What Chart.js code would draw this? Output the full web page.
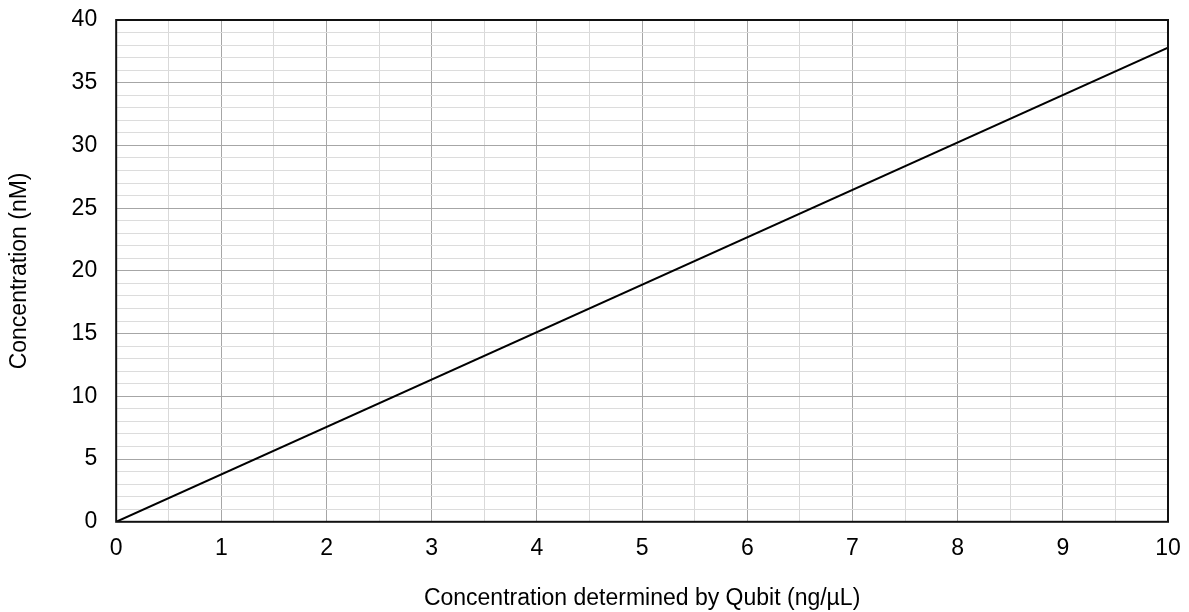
<!DOCTYPE html>
<html>
<head>
<meta charset="utf-8">
<script src="https://cdn.jsdelivr.net/npm/chart.js@4"></script>
<style>
html,body{margin:0;padding:0;background:#fff;}
#wrap{width:1189px;height:612px;}
</style>
</head>
<body>
<div id="wrap"><canvas id="c" width="1189" height="612"></canvas></div>
<script>
const xValues = [0, 10];
const yValues = [0, 37.8];
const xTicks = [0,1,2,3,4,5,6,7,8,9,10];
const yTicks = [0,5,10,15,20,25,30,35,40];
const xTitle = 'Concentration determined by Qubit (ng/µL)';
const yTitle = 'Concentration (nM)';

const points = xValues.map((x, i) => ({x: x, y: yValues[i]}));
const FONT = "'Liberation Sans', Arial, Helvetica, sans-serif";

const frame = {
  id: 'frame',
  afterDatasetsDraw(chart) {
    const {ctx, chartArea: a} = chart;
    ctx.save();
    ctx.strokeStyle = '#111';
    ctx.lineWidth = 2;
    ctx.strokeRect(a.left, a.top, a.right - a.left, a.bottom - a.top);
    ctx.restore();
  }
};

new Chart(document.getElementById('c'), {
  type: 'scatter',
  data: {
    datasets: [{
      data: points,
      showLine: true,
      borderColor: '#000',
      borderWidth: 2,
      pointRadius: 0,
      fill: false
    }]
  },
  options: {
    responsive: false,
    animation: false,
    layout: {padding: {left: 6, right: 21, top: 20, bottom: 0}},
    plugins: {legend: {display: false}, tooltip: {enabled: false}},
    scales: {
      x: {
        type: 'linear',
        min: xTicks[0], max: xTicks[xTicks.length - 1],
        ticks: {
          stepSize: 0.5,
          autoSkip: false,
          maxRotation: 0,
          color: '#000',
          font: {family: FONT, size: 23},
          padding: 0,
          callback: v => xTicks.includes(v) ? String(v) : ''
        },
        grid: {
          drawTicks: true,
          tickLength: 13,
          tickColor: 'rgba(0,0,0,0)',
          lineWidth: 1,
          color: c => (Number.isInteger(c.tick.value) ? '#a6a6a6' : '#d9d9d9')
        },
        border: {display: false},
        title: {display: true, text: xTitle, color: '#000', font: {family: FONT, size: 23}, padding: {top: 22, bottom: 0}}
      },
      y: {
        type: 'linear',
        min: yTicks[0], max: yTicks[yTicks.length - 1],
        ticks: {
          stepSize: 1,
          autoSkip: false,
          color: '#000',
          font: {family: FONT, size: 23},
          padding: 0,
          callback: v => yTicks.includes(v) ? String(v) : ''
        },
        grid: {
          drawTicks: true,
          tickLength: 19,
          tickColor: 'rgba(0,0,0,0)',
          lineWidth: 1,
          color: c => (c.tick.value % 5 === 0 ? '#a6a6a6' : '#dcdcdc')
        },
        border: {display: false},
        title: {display: true, text: yTitle, color: '#000', font: {family: FONT, size: 23}, padding: {top: 0, bottom: 38}}
      }
    }
  },
  plugins: [frame]
});
</script>
</body>
</html>
